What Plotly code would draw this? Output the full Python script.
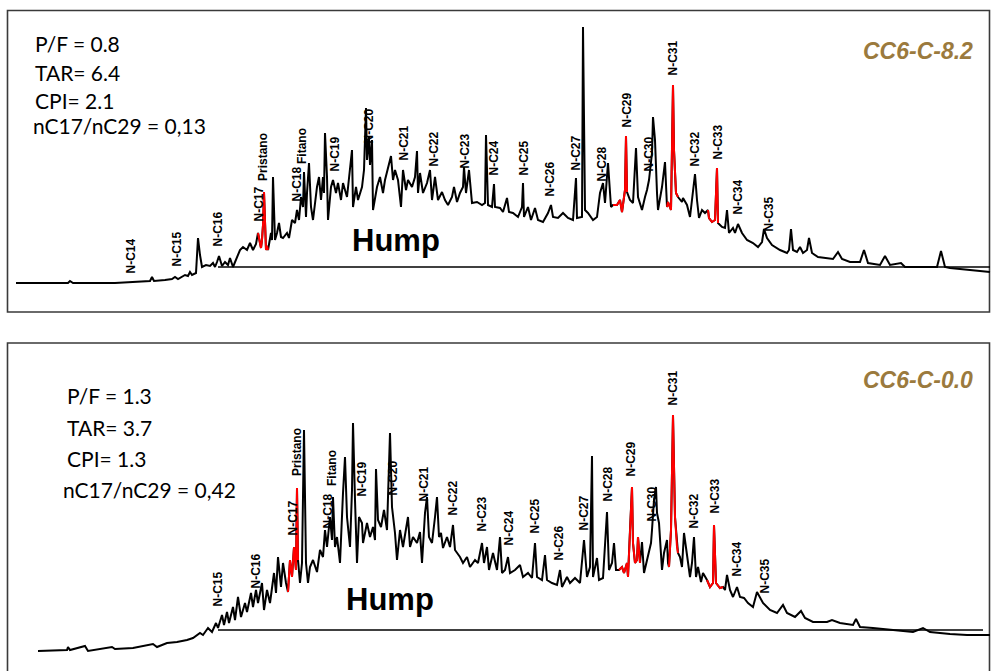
import plotly.graph_objects as go

W, H = 991, 671

# ---------------------------------------------------------------------------
# Chromatogram of sample CC6-C-8.2 (scan number, detector response)
# ---------------------------------------------------------------------------
scan_82 = [16, 60, 68, 70, 73, 115, 140, 150, 152, 154, 165, 172, 175, 178, 185, 188, 190, 192, 196, 198,
           200, 202, 206, 210, 213, 215, 217, 219, 222, 225, 228, 230, 233, 237, 240, 243, 247, 250, 253, 256,
           258, 259, 261, 262, 263, 264, 265, 266, 267,
           268, 271, 272, 273, 275, 277, 279, 281, 283, 287, 289, 292, 295, 297, 299, 301, 303, 304, 306, 307,
           309, 311, 313, 317, 319, 321, 323, 324, 325, 327, 328, 331, 333, 336, 338, 341, 343, 347, 349, 352,
           353, 356, 358, 362, 364, 366, 367, 369, 370, 372, 373, 377, 380, 383, 385, 388, 391, 393, 395, 398,
           401, 403, 406, 408, 412, 415, 417, 418,
           420, 423, 427, 430, 432, 435, 438, 442, 445, 448, 452, 454, 457, 460, 463, 464, 466, 469, 472, 477,
           482, 485, 486, 488, 492, 494, 495, 500, 503, 507, 509, 513, 518, 522, 523, 524, 528, 531, 535, 538,
           543, 548, 551, 553, 558, 563, 568, 573, 576, 577, 582, 583, 585, 588, 593, 597, 600, 603, 605, 608,
           611,
           613, 617, 620, 622, 625, 626, 627,
           630, 633, 636, 638, 642, 645, 647, 649, 652, 653, 655, 657, 658, 662, 665, 667,
           668, 671, 672, 673, 674, 676, 678,
           682, 683, 687, 690, 693, 695, 697, 699, 702, 705, 708,
           709, 712, 715, 717, 718,
           722, 725, 727, 729, 733, 735, 738, 742, 747, 753, 758, 762, 764, 767, 772, 780, 787, 789, 791, 793,
           797, 800, 803, 807, 809, 812, 818, 827, 833, 838, 842, 850, 860, 864, 868, 880, 885, 890, 901, 905,
           920, 937, 941, 945, 950, 970, 990]
resp_82 = [7, 7, 7, 9, 7, 7, 8, 9, 13, 9, 10, 11, 13, 11, 15, 14, 18, 15, 17, 52,
           35, 23, 25, 24, 27, 23, 28, 34, 24, 28, 25, 32, 23, 33, 40, 43, 40, 47, 40, 46,
           57, 52, 42, 50, 65, 98, 52, 40, 44,
           40, 57, 50, 113, 50, 57, 67, 53, 52, 57, 52, 70, 67, 80, 70, 93, 83, 118, 73, 97,
           127, 83, 70, 103, 113, 90, 113, 97, 157, 113, 70, 103, 110, 97, 107, 90, 107, 93, 113, 140,
           83, 103, 90, 103, 120, 182, 130, 153, 125, 150, 80, 103, 113, 97, 110, 123, 134, 110, 120, 110,
           83, 120, 100, 110, 103, 113, 139, 97,
           117, 97, 107, 120, 90, 113, 90, 98, 90, 85, 93, 103, 88, 97, 103, 123, 97, 120, 87, 88,
           85, 87, 155, 85, 83, 106, 83, 82, 78, 92, 78, 77, 73, 83, 107, 73, 83, 70, 82, 70,
           68, 77, 85, 73, 72, 77, 72, 70, 112, 72, 73, 263, 80, 77, 70, 73, 97, 107, 87, 127,
           83,
           85, 85, 90, 78, 100, 154, 98,
           90, 87, 142, 93, 80, 93, 100, 110, 137, 173, 150, 97, 80, 103, 128, 83,
           88, 80, 140, 205, 140, 97, 93,
           88, 92, 85, 73, 97, 116, 90, 72, 80, 77, 80,
           72, 68, 70, 122, 67,
           63, 62, 80, 57, 62, 57, 66, 57, 50, 47, 43, 48, 61, 52, 45, 40, 37, 40, 61, 40,
           38, 43, 37, 40, 52, 37, 33, 32, 31, 38, 31, 28, 28, 40, 27, 25, 34, 25, 27, 23,
           23, 23, 39, 23, 22, 20, 18]

# ---------------------------------------------------------------------------
# Chromatogram of sample CC6-C-0.0 (scan number, detector response)
# ---------------------------------------------------------------------------
scan_00 = [38, 67, 68, 70, 85, 88, 112, 115, 133, 153, 157, 167, 177, 187, 193, 200, 203, 208, 212, 216,
           218, 222, 224, 227, 229, 233, 235, 238, 241, 245, 247, 251, 253, 256, 258, 262, 264, 267, 270, 274,
           276, 278, 281, 283, 286,
           288, 290, 292, 294, 296, 297, 298,
           300, 302, 304, 306, 308, 310, 313, 317, 320, 323, 325, 327, 330, 332, 333, 335, 337, 340, 343, 345,
           347, 350, 352, 353, 355, 357, 359, 362, 363, 367, 370, 373, 375, 376, 378, 381, 384, 387, 390, 392,
           395, 397, 400, 403, 408, 410, 413, 417, 420, 422, 425, 427, 429, 432, 435, 437, 439, 441, 443, 447,
           450, 453, 455, 460, 463, 467, 470, 475, 478, 482, 484, 487, 489, 493, 497, 500, 502, 505, 508, 510,
           515, 520, 523, 528, 532, 535, 537, 542, 545, 547, 552, 557, 560, 562, 567, 570, 575, 580, 584, 587,
           590, 592, 593, 597, 599, 603, 607, 609, 612, 614, 616,
           619, 622, 624, 627, 628, 630, 632, 633, 635, 637, 638, 640,
           642, 644, 648, 651, 652, 654, 656, 657, 659, 662, 664, 667, 668,
           669, 671, 673, 675, 677, 678,
           680, 682, 684, 687, 690, 692, 694, 696, 698, 701, 703,
           707, 710, 713, 714, 716, 720, 723,
           725, 727, 730, 733, 737, 740, 744, 748, 753, 757, 760, 763, 770, 777, 783, 787, 795, 801, 805, 813,
           827, 832, 840, 853, 856, 860, 873, 893, 913, 923, 930, 950, 967, 990]
resp_00 = [9, 10, 13, 10, 14, 9, 13, 11, 12, 16, 13, 17, 18, 20, 22, 27, 25, 32, 28, 37,
           32, 45, 35, 48, 37, 53, 40, 63, 43, 57, 48, 67, 53, 70, 57, 77, 50, 70, 57, 87,
           67, 103, 73, 97, 77,
           68, 100, 83, 113, 90, 172, 100,
           77, 97, 230, 97, 77, 93, 100, 88, 110, 103, 130, 113, 143, 120, 163, 113, 123, 97, 167, 203,
           143, 113, 170, 237, 160, 97, 143, 137, 117, 137, 123, 133, 120, 191, 140, 133, 150, 130, 227, 153,
           127, 100, 130, 113, 143, 113, 123, 117, 128, 97, 147, 163, 123, 117, 143, 163, 123, 127, 112, 123,
           113, 135, 110, 103, 97, 103, 93, 100, 97, 117, 97, 113, 90, 107, 90, 123, 87, 90, 103, 87,
           90, 95, 83, 87, 82, 117, 83, 80, 105, 80, 77, 75, 90, 73, 83, 77, 82, 77, 120, 83,
           93, 204, 83, 102, 80, 82, 148, 90, 97, 117, 90,
           90, 93, 87, 97, 83, 130, 173, 117, 97, 100, 123, 97,
           118, 87, 103, 117, 130, 160, 173, 147, 137, 90, 107, 120, 97,
           93, 130, 245, 143, 113, 107,
           103, 93, 127, 103, 83, 97, 123, 83, 93, 78, 87,
           80, 73, 77, 135, 77, 72, 73,
           70, 85, 70, 63, 73, 63, 62, 57, 53, 68, 63, 57, 50, 47, 55, 47, 43, 49, 42, 38,
           38, 40, 37, 35, 41, 33, 32, 30, 28, 32, 28, 26, 25, 25]

# n-alkane windows used for the ratios (highlighted in red)
ratio_windows_82 = [(257, 268), (612, 628), (667, 679), (708, 719)]
ratio_windows_00 = [(287, 299), (618, 641), (668.5, 679), (706, 724)]

# Unresolved complex mixture ("hump") baseline: start scan, end scan, level
hump_82 = (218, 990, 23)
hump_00 = (218, 983, 30)

# Peak identifications
labels_82 = ["N-C14", "N-C15", "N-C16", "N-C17", "Pristano", "N-C18", "Fitano", "N-C19", "N-C20",
             "N-C21", "N-C22", "N-C23", "N-C24", "N-C25", "N-C26", "N-C27", "N-C28", "N-C29",
             "N-C30", "N-C31", "N-C32", "N-C33", "N-C34", "N-C35"]
label_scan_82 = [130, 176, 217, 258, 263, 296, 302, 334, 368, 403, 433, 464, 493, 523, 549, 575, 601,
                 626, 648, 672, 694, 717, 737, 768]
labels_00 = ["N-C15", "N-C16", "N-C17", "Pristano", "N-C18", "Fitano", "N-C19", "N-C20", "N-C21",
             "N-C22", "N-C23", "N-C24", "N-C25", "N-C26", "N-C27", "N-C28", "N-C29", "N-C30",
             "N-C31", "N-C32", "N-C33", "N-C34", "N-C35"]
label_scan_00 = [217, 255, 292, 297, 327, 332, 361, 392, 423, 452, 481, 508, 534, 558, 583, 607, 630,
                 651, 672, 693, 714, 736, 764]

# Geochemical indices
stats_82 = ["P/F = 0.8", "TAR= 6.4", "CPI= 2.1", "nC17/nC29 = 0,13"]
stats_00 = ["P/F = 1.3", "TAR= 3.7", "CPI= 1.3", "nC17/nC29 = 0,42"]
samples = ["CC6-C-8.2", "CC6-C-0.0"]

# Label placement (response level of the label foot)
label_foot_82 = [15, 22, 42, 67, 108, 87, 125, 117, 145, 128, 122, 120, 113, 113, 92, 118, 107, 161,
                 117, 213, 122, 129, 74, 57]
label_foot_00 = [52, 70, 123, 183, 130, 173, 162, 163, 157, 143, 127, 113, 125, 98, 128, 157, 182,
                 137, 253, 130, 145, 82, 65]


def pxx(x):
    return x / W


def pxy(y):
    return 1 - y / H


fig = go.Figure()


def add_panel(scan, resp, windows, hump, xa, ya):
    fig.add_trace(go.Scatter(x=[hump[0], hump[1]], y=[hump[2], hump[2]], mode="lines",
                             line=dict(color="black", width=1.7), xaxis=xa, yaxis=ya,
                             hoverinfo="skip"))
    fig.add_trace(go.Scatter(x=scan, y=resp, mode="lines",
                             line=dict(color="black", width=2.0), xaxis=xa, yaxis=ya))
    for lo, hi in windows:
        xs = [s for s in scan if lo <= s <= hi]
        ys = [r for s, r in zip(scan, resp) if lo <= s <= hi]
        fig.add_trace(go.Scatter(x=xs, y=ys, mode="lines",
                                 line=dict(color="#ff0000", width=2.0), xaxis=xa, yaxis=ya))


add_panel(scan_82, resp_82, ratio_windows_82, hump_82, "x", "y")
add_panel(scan_00, resp_00, ratio_windows_00, hump_00, "x2", "y2")

ann = []
label_font = dict(family="Liberation Sans, Arial, sans-serif", size=12, color="black")
for txt, s, f in zip(labels_82, label_scan_82, label_foot_82):
    ann.append(dict(x=s, y=f, xref="x", yref="y", text="<b>%s</b>" % txt, textangle=-90,
                    showarrow=False, xanchor="center", yanchor="bottom", borderpad=0,
                    font=label_font))
for txt, s, f in zip(labels_00, label_scan_00, label_foot_00):
    ann.append(dict(x=s, y=f, xref="x2", yref="y2", text="<b>%s</b>" % txt, textangle=-90,
                    showarrow=False, xanchor="center", yanchor="bottom", borderpad=0,
                    font=label_font))

stat_font = dict(family="Lato, Calibri, sans-serif", size=21, color="black")
for txt, (x, y) in zip(stats_82, [(34, 44), (34, 72), (34, 100), (32, 126)]):
    ann.append(dict(x=pxx(x), y=pxy(y), xref="paper", yref="paper", text=txt, showarrow=False,
                    xanchor="left", yanchor="middle", borderpad=0, font=stat_font))
for txt, (x, y) in zip(stats_00, [(66, 395), (66, 427), (66, 458), (62, 489)]):
    ann.append(dict(x=pxx(x), y=pxy(y), xref="paper", yref="paper", text=txt, showarrow=False,
                    xanchor="left", yanchor="middle", borderpad=0, font=stat_font))

title_font = dict(family="Liberation Sans, Arial, sans-serif", size=23, color="#9b7a3d")
for txt, y in zip(samples, [51, 380]):
    ann.append(dict(x=pxx(974), y=pxy(y), xref="paper", yref="paper", text="<b><i>%s</i></b>" % txt,
                    showarrow=False, xanchor="right", yanchor="middle", borderpad=0, font=title_font))

hump_font = dict(family="Liberation Sans, Arial, sans-serif", size=31, color="black")
for x, y in [(396, 240), (390, 599)]:
    ann.append(dict(x=pxx(x), y=pxy(y), xref="paper", yref="paper", text="<b>Hump</b>",
                    showarrow=False, xanchor="center", yanchor="middle", borderpad=0, font=hump_font))

box_line = dict(color="#3a3a3a", width=1.6)
shapes = [
    dict(type="rect", xref="paper", yref="paper", x0=pxx(7.5), x1=pxx(989.5), y0=pxy(312), y1=pxy(10.5),
         line=box_line, fillcolor="rgba(0,0,0,0)", layer="below"),
    dict(type="rect", xref="paper", yref="paper", x0=pxx(7.5), x1=pxx(989.5), y0=pxy(680), y1=pxy(343),
         line=box_line, fillcolor="rgba(0,0,0,0)", layer="below"),
]

axis_common = dict(visible=False, showgrid=False, zeroline=False, fixedrange=True)
fig.update_layout(
    width=W, height=H,
    margin=dict(l=0, r=0, t=0, b=0),
    paper_bgcolor="white", plot_bgcolor="white",
    showlegend=False,
    xaxis=dict(domain=[0, 1], range=[0, W], anchor="y", **axis_common),
    yaxis=dict(domain=[1 - 335 / H, 1], range=[-45, 290], anchor="x", **axis_common),
    xaxis2=dict(domain=[0, 1], range=[0, W], anchor="y2", **axis_common),
    yaxis2=dict(domain=[0, 1 - 336 / H], range=[-11, 324], anchor="x2", **axis_common),
    annotations=ann,
    shapes=shapes,
)

fig.write_html("out.html")
